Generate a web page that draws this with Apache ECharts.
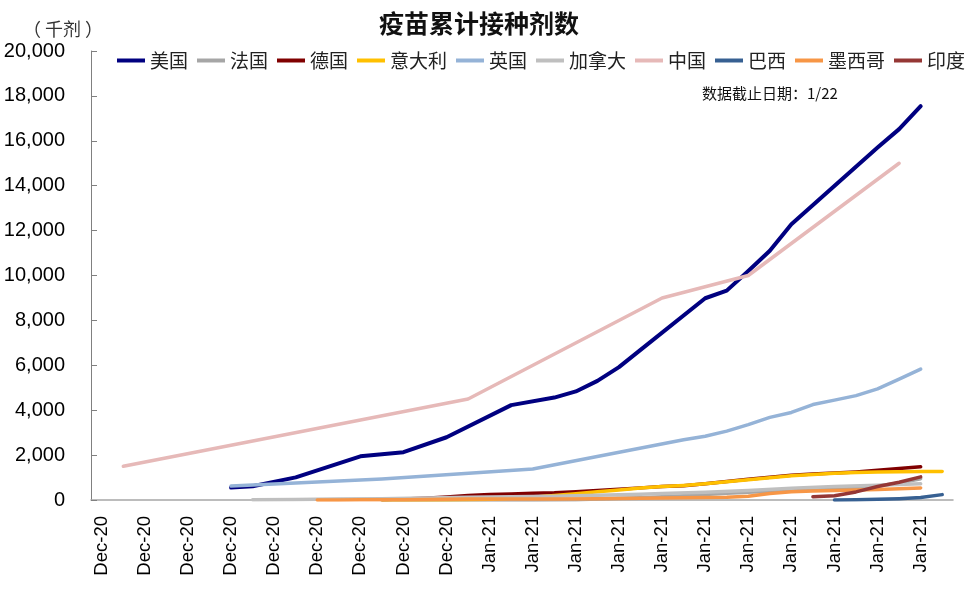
<!DOCTYPE html>
<html>
<head>
<meta charset="utf-8">
<script src="https://cdn.jsdelivr.net/npm/echarts@6/dist/echarts.min.js"></script>
<style>html,body{margin:0;padding:0;background:#fff}#c{width:967px;height:592px}</style>
</head>
<body>
<div id="c"></div>
<script>
// x categories: one per day, 2020-12-14 .. 2021-01-22
const days = ['12/14','12/15','12/16','12/17','12/18','12/19','12/20','12/21','12/22','12/23',
  '12/24','12/25','12/26','12/27','12/28','12/29','12/30','12/31','1/1','1/2',
  '1/3','1/4','1/5','1/6','1/7','1/8','1/9','1/10','1/11','1/12',
  '1/13','1/14','1/15','1/16','1/17','1/18','1/19','1/20','1/21','1/22'];
const monthLabels = {'12': 'Dec-20', '1': 'Jan-21'};
const yTicks = [0, 2000, 4000, 6000, 8000, 10000, 12000, 14000, 16000, 18000, 20000];

// cumulative doses (thousand), [day, value]
const usa = [['12/20',556],['12/21',614],['12/23',1008],['12/26',1944],['12/28',2128],['12/30',2795],
  ['1/2',4225],['1/4',4563],['1/5',4836],['1/6',5307],['1/7',5919],['1/8',6688],['1/11',8987],
  ['1/12',9327],['1/13',10200],['1/14',11100],['1/15',12280],['1/19',15700],['1/20',16520],['1/21',17540]];
const france = [['12/27',0],['12/31',1],['1/3',3],['1/5',15],['1/6',45],['1/7',80],['1/8',100],['1/9',140],
  ['1/10',190],['1/11',240],['1/12',300],['1/13',350],['1/14',390],['1/15',420],['1/16',460],['1/17',480],
  ['1/18',520],['1/19',620],['1/20',760],['1/21',950]];
const germany = [['12/27',20],['12/28',40],['12/29',80],['12/30',130],['12/31',200],['1/1',240],['1/2',270],
  ['1/3',300],['1/4',320],['1/5',370],['1/6',420],['1/7',480],['1/8',540],['1/9',600],['1/10',640],
  ['1/11',720],['1/12',820],['1/13',920],['1/14',1010],['1/15',1100],['1/16',1160],['1/17',1200],
  ['1/18',1250],['1/19',1320],['1/20',1400],['1/21',1480]];
const italy = [['12/27',7],['12/30',9],['1/1',30],['1/2',80],['1/3',120],['1/4',200],['1/5',280],['1/6',370],
  ['1/7',450],['1/8',530],['1/9',600],['1/10',650],['1/11',720],['1/12',810],['1/13',900],['1/14',990],
  ['1/15',1080],['1/16',1140],['1/17',1190],['1/18',1230],['1/19',1250],['1/20',1260],['1/21',1265],['1/22',1275]];
const uk = [['12/20',620],['12/27',940],['1/3',1380],['1/10',2680],['1/11',2840],['1/12',3070],['1/13',3360],
  ['1/14',3680],['1/15',3900],['1/16',4250],['1/17',4450],['1/18',4650],['1/19',4950],['1/20',5380],['1/21',5830]];
const canada = [['12/21',10],['12/23',20],['12/25',40],['12/27',60],['12/29',90],['12/31',120],['1/2',140],
  ['1/4',170],['1/6',210],['1/8',260],['1/9',290],['1/11',350],['1/13',420],['1/15',520],['1/17',600],
  ['1/19',660],['1/20',690],['1/21',720]];
const china = [['12/15',1500],['12/31',4500],['1/9',9000],['1/13',10000],['1/20',15000]];
const brazil = [['1/17',1],['1/18',10],['1/19',30],['1/20',60],['1/21',110],['1/22',240]];
const mexico = [['12/24',3],['12/25',5],['12/26',8],['12/27',10],['12/28',15],['12/29',25],['12/30',35],
  ['12/31',40],['1/2',45],['1/4',50],['1/6',60],['1/8',80],['1/10',100],['1/12',120],['1/13',170],
  ['1/14',290],['1/15',370],['1/16',400],['1/17',420],['1/18',440],['1/19',470],['1/20',500],['1/21',540]];
const india = [['1/16',150],['1/17',190],['1/18',360],['1/19',600],['1/20',790],['1/21',1030]];

const seriesDefs = [
  {name:'美国', data:usa, color:'#000080', w:4},
  {name:'法国', data:france, color:'#A6A6A6', w:3.5},
  {name:'德国', data:germany, color:'#800000', w:3.5},
  {name:'意大利', data:italy, color:'#FFC000', w:3.5},
  {name:'英国', data:uk, color:'#95B3D7', w:3.5},
  {name:'加拿大', data:canada, color:'#BFBFBF', w:3.5},
  {name:'中国', data:china, color:'#E6B9B8', w:3.5},
  {name:'巴西', data:brazil, color:'#376092', w:3.5},
  {name:'墨西哥', data:mexico, color:'#F79646', w:3.5},
  {name:'印度', data:india, color:'#953735', w:3.5}
];

const cjk = '"Noto Sans CJK SC", sans-serif';
const latin = '"Liberation Sans", Arial, sans-serif';
const chart = echarts.init(document.getElementById('c'));
chart.setOption({
  animation: false,
  backgroundColor: '#fff',
  title: [
    {text:'疫苗累计接种剂数', left:374, top:6, textStyle:{fontFamily:cjk, fontSize:25, fontWeight:'bold', color:'#111'}},
    {text:'（ 千剂 ）', left:18, top:15, textStyle:{fontFamily:cjk, fontSize:18, fontWeight:'normal', color:'#333'}},
    {text:'数据截止日期：1/22', left:697, top:81, textStyle:{fontFamily:cjk, fontSize:15, fontWeight:'normal', color:'#111'}}
  ],
  legend: {
    left: 117, top: 51, width: 860, padding: 0, icon: 'rect', itemWidth: 28, itemHeight: 4, itemGap: 9, itemTextGap: 5,
    textStyle: {fontFamily: cjk, fontSize: 19, color: '#222'},
    data: seriesDefs.map(s => s.name)
  },
  grid: {left: 91, right: 14, top: 51, bottom: 92, containLabel: false},
  xAxis: {
    type: 'category', data: days, boundaryGap: true,
    axisLine: {lineStyle: {color: '#A6A6A6', width: 1.5}},
    axisTick: {inside: true, interval: 1, length: 7, lineStyle: {color: '#808080'}},
    axisLabel: {interval: 1, rotate: 90, margin: 16, fontFamily: latin, fontSize: 18.5, color: '#000',
      formatter: v => monthLabels[v.split('/')[0]]}
  },
  yAxis: {
    type: 'value', min: 0, max: 20000, interval: 2000,
    axisLine: {show: true, lineStyle: {color: '#808080'}},
    axisTick: {show: true, inside: true, length: 6, lineStyle: {color: '#808080'}},
    splitLine: {show: false},
    axisLabel: {margin: 26, fontFamily: latin, fontSize: 20, color: '#000',
      formatter: v => yTicks.includes(v) ? v.toLocaleString('en-US') : ''}
  },
  series: seriesDefs.map(s => ({
    name: s.name, type: 'line', data: s.data, showSymbol: false, symbol: 'none',
    color: s.color, lineStyle: {color: s.color, width: s.w, cap: 'round', join: 'round'}
  }))
});
</script>
</body>
</html>
